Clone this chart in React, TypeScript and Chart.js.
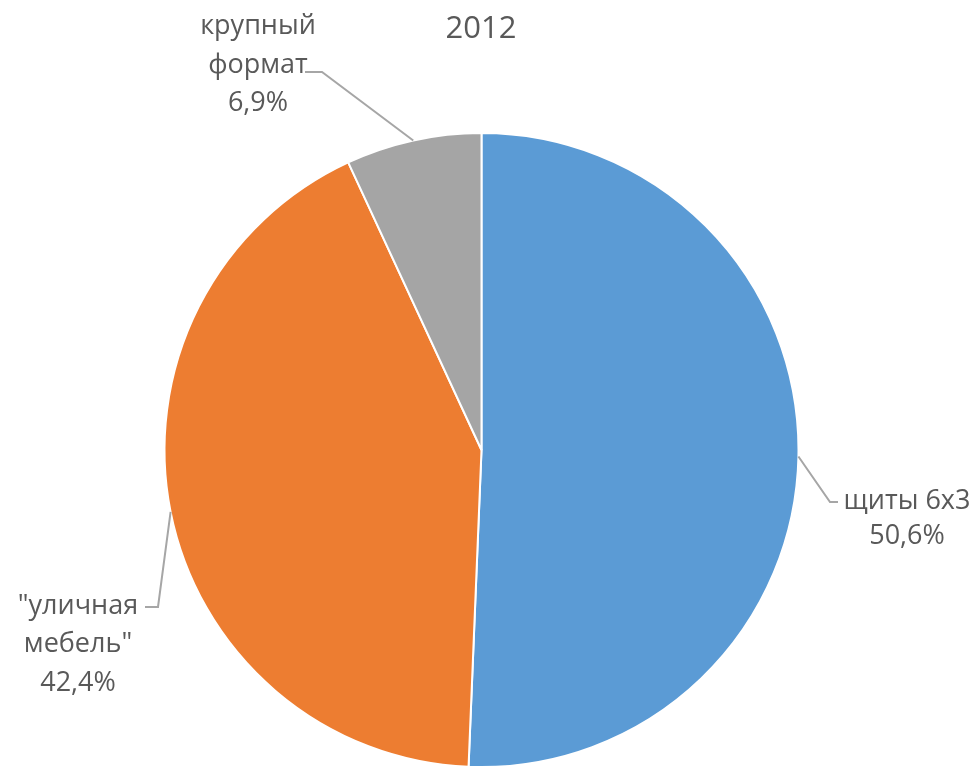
import React, { useEffect, useRef } from "react";
import { Chart, registerables } from "chart.js";

Chart.register(...registerables);

const title = "2012";
const categories = ["щиты 6х3", "\"уличная мебель\"", "крупный формат"];
const labelLines = [["щиты 6х3", "50,6%"], ["\"уличная", "мебель\"", "42,4%"], ["крупный", "формат", "6,9%"]];
const values = [50.6, 42.4, 6.9];
const colors = ["#5B9BD5", "#ED7D31", "#A5A5A5"];

const FONT = "'Open Sans', 'Noto Sans', sans-serif";
const TEXT = "#595959";

// label layout: elbow offset and text block positions (label layout, not data marks)
const labelLayout = [
  { elbow: [830, 502], end: [838, 502], cx: 907, baselines: [509, 544] },
  { elbow: [158, 607], end: [145, 607], cx: 78, baselines: [614, 652, 691] },
  { elbow: [322, 72], end: [305, 72], cx: 258, baselines: [34, 73, 111] },
];

const labelPlugin = {
  id: "labels",
  afterDraw(chart: any) {
    const ctx = chart.ctx;
    const meta = chart.getDatasetMeta(0);
    ctx.save();
    ctx.fillStyle = TEXT;
    ctx.font = `31px ${FONT}`;
    ctx.textAlign = "center";
    ctx.textBaseline = "alphabetic";
    ctx.fillText(title, 481, 38);
    meta.data.forEach((arc: any, i: number) => {
      const p = arc.getProps(["x", "y", "startAngle", "endAngle", "outerRadius"], true);
      const mid = (p.startAngle + p.endAngle) / 2;
      const ax = p.x + Math.cos(mid) * p.outerRadius;
      const ay = p.y + Math.sin(mid) * p.outerRadius;
      const L = labelLayout[i];
      ctx.strokeStyle = "#A6A6A6";
      ctx.lineWidth = 2;
      ctx.beginPath();
      ctx.moveTo(ax, ay);
      ctx.lineTo(L.elbow[0], L.elbow[1]);
      ctx.lineTo(L.end[0], L.end[1]);
      ctx.stroke();
      ctx.fillStyle = TEXT;
      ctx.font = `27px ${FONT}`;
      ctx.textAlign = "center";
      labelLines[i].forEach((t, j) => ctx.fillText(t, L.cx, L.baselines[j]));
    });
    ctx.restore();
  },
};

export default function App() {
  const ref = useRef<HTMLCanvasElement>(null);
  useEffect(() => {
    document.body.style.margin = "0";
    const chart = new Chart(ref.current!, {
      type: "pie",
      data: {
        labels: categories,
        datasets: [
          {
            data: values,
            backgroundColor: colors,
            borderColor: "#FFFFFF",
            borderWidth: 2,
          },
        ],
      },
      options: {
        animation: false,
        responsive: false,
        layout: { padding: { left: 162, right: 178, top: 132, bottom: 0 } },
        plugins: { legend: { display: false }, tooltip: { enabled: false }, title: { display: false } },
      },
      plugins: [labelPlugin],
    });
    return () => chart.destroy();
  }, []);
  return (
    <div style={{ width: 979, height: 768, background: "#fff" }}>
      <canvas ref={ref} width={979} height={768} style={{ width: 979, height: 768, display: "block" }} />
    </div>
  );
}
